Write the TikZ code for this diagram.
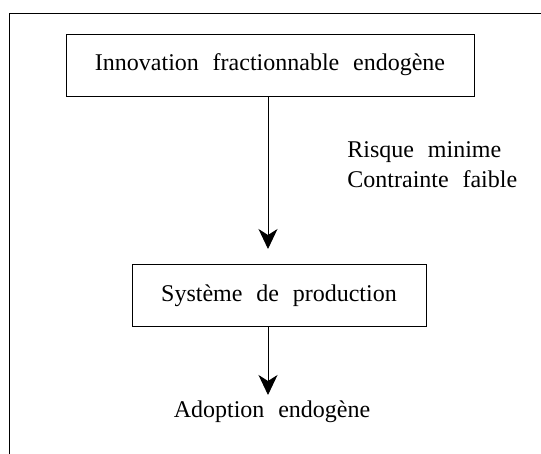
\documentclass[tikz,border=0pt]{standalone}
\usepackage{fontspec}
\setmainfont{Liberation Serif}[WordSpace=2.3]
\usetikzlibrary{arrows.meta}
\begin{document}
\begin{tikzpicture}[x=1pt, y=-1pt, font=\fontsize{24}{30}\selectfont, line 
			join=miter, line width=0.9pt,
			>={Stealth[length=20pt,width=19pt,inset=6pt]},
			boite/.style={draw, minimum height=62pt, inner sep=0pt}]
			\useasboundingbox (0,0) rectangle (541,454);
			\path (268,249) coordinate (T1)
			(268,395) coordinate (T2)
			;
			\draw (9.5,454)--(9.5,13)--(541,13)
			;
			\node[boite, minimum width=408pt] (inno) at (270,65) 
			{Innovation fractionnable endog\`ene};
			\node[boite, minimum width=294pt] (syst) at (279,295.5) 
			{Syst\`eme de production};
			\node (adop) at (272,411.5) {Adoption endog\`ene};
			\node[anchor=west, align=left, inner sep=0pt] (cond) at (347,165) 
			{Risque minime\\Contrainte faible};
			\draw[->] (T1 |- inno.south)--(T1);
			\draw[->] (T2 |- syst.south)--(T2);
		\end{tikzpicture}
\end{document}
